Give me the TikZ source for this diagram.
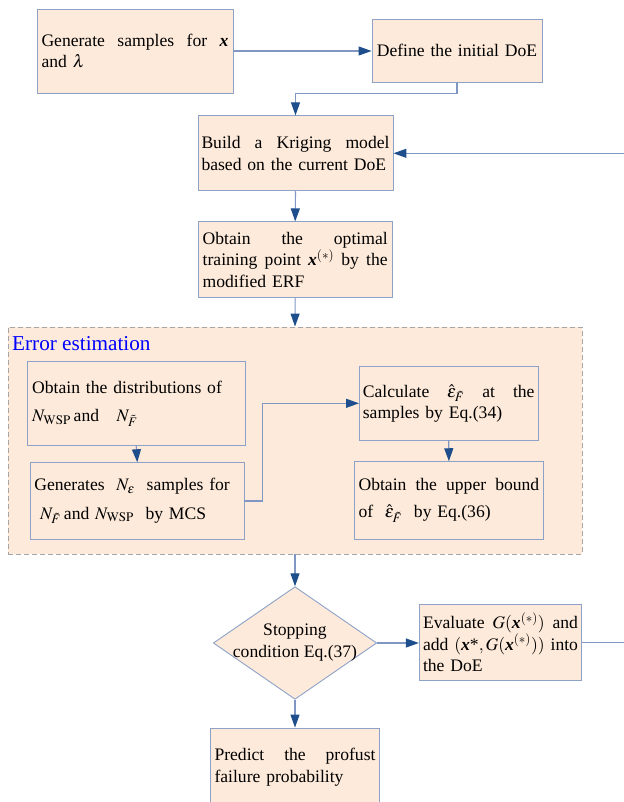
\documentclass[tikz,border=0pt]{standalone}
\usepackage{mathptmx}
\usepackage{fontspec}
\setmainfont{Liberation Serif}
\usetikzlibrary{arrows.meta,shapes.geometric}
\definecolor{peach}{HTML}{FDEADA}
\definecolor{bord}{HTML}{8EA2C8}
\definecolor{conn}{HTML}{7F97C2}
\definecolor{tipc}{HTML}{1F4E8C}
\definecolor{dashc}{HTML}{A6A6A6}
\newcommand\jl[2]{\makebox[#1pt][l]{#2}}
\newcommand\bx{\textbf{\textit{x}}}
\tikzset{
  every node/.style={font=\fontsize{17.6}{21.5}\selectfont},
  pbox/.style={draw=bord, line width=0.9pt, fill=peach, inner ysep=0pt, align=left},
  arr/.style={draw=conn, line width=1.1pt, -{Triangle[length=13pt,width=9pt,color=tipc]}},
}
\begin{document}
\begin{tikzpicture}[x=1pt,y=-1pt]
\useasboundingbox (0,0) rectangle (623,802);
% top boxes
\node[pbox, text width=187pt, inner xsep=4.5pt, minimum height=84pt] (gen) at (135,51)
  {\jl{187}{Generate\hfill samples\hfill for\hfill \bx}\\and $\lambda$};
\node[pbox, text width=166pt, inner xsep=2pt, minimum height=63pt, align=center] (def) at (457,50.5)
  {Define the initial DoE};
\node[pbox, text width=188pt, inner xsep=3.5pt, minimum height=75pt] (build) at (295.5,153.3)
  {\jl{188}{Build\hfill a\hfill Kriging\hfill model}\\based on the current DoE};
\node[pbox, text width=185pt, inner xsep=4.75pt, minimum height=76pt] (opt) at (295.2,259.9)
  {\jl{185}{Obtain\hfill the\hfill optimal}\\\jl{185}{training\hfill point\hfill \bx$^{(*)}$\hfill by\hfill the}\\modified ERF};
% error estimation group
\node[draw=dashc, dash pattern=on 5pt off 3pt, line width=0.9pt, fill=peach,
  minimum width=574pt, minimum height=227pt, inner sep=0pt] (err) at (295,440.5) {};
\node[anchor=base west, text=blue, font=\fontsize{21.2}{24}\selectfont, inner sep=0pt] (errt) at (12,350)
  {Error estimation};
\node[pbox, text width=208pt, inner xsep=5.25pt, minimum height=83.6pt] (A) at (136.2,403.5)
  {Obtain the distributions of\\[7pt]$N_{\mathrm{WSP}}$\,and\quad$N_{\tilde F}$};
\node[pbox, text width=206pt, inner xsep=3.7pt, minimum height=76.6pt] (B) at (137.3,501)
  {Generates\ \ $N_\varepsilon$\ \ samples for\\[7pt]\ $N_{\tilde F}$\,and\ $N_{\mathrm{WSP}}$\ \ by MCS};
\node[pbox, text width=171.7pt, inner xsep=3.4pt, minimum height=73.3pt] (C) at (448.7,403.3)
  {\jl{171.7}{Calculate\hfill $\hat\varepsilon_{\tilde F}$\hfill at\hfill the}\\samples by Eq.(34)};
\node[pbox, text width=180.7pt, inner xsep=3.75pt, minimum height=77.6pt] (D) at (448.9,500.5)
  {\jl{180.7}{Obtain\hfill the\hfill upper\hfill bound}\\[6pt]of\ \ $\hat\varepsilon_{\tilde F}$\ \ by Eq.(36)};
% decision
\node[diamond, draw=bord, line width=0.9pt, fill=peach, minimum width=163.4pt,
  minimum height=112.6pt, inner sep=0pt] (dia) at (295,643) {};
\node[align=center, inner sep=0pt] (diat) at (295,642.5) {Stopping\\condition Eq.(37)};
\node[pbox, text width=155pt, inner xsep=3.7pt, minimum height=75.7pt] (eval) at (500.5,642.2)
  {\jl{155}{Evaluate\hfill $G(\mbox{\bx}^{(*)})$\hfill and}\\\jl{155}{add\hfill $(\mbox{\bx*},G(\mbox{\bx}^{(*)}))$\hfill into}\\the DoE};
\node[pbox, text width=161pt, inner xsep=3.8pt, minimum height=78pt] (pred) at (295,767)
  {\jl{161}{Predict\hfill the\hfill profust}\\failure probability};
% connectors
\draw[arr] (gen.east) -- (gen.east -| def.west);
\draw[arr] (def.south) -- ++(0,10.7) -| (build.north);
\draw[arr] (build.south) -- (opt.north);
\draw[arr] (opt.south) -- (err.north);
\draw[arr] (A.south) -- (B.north);
\draw[arr] (B.east) -- ++(18,0) |- (C.west);
\draw[arr] (C.south) -- (D.north);
\draw[arr] (err.south) -- (dia.north);
\draw[arr] (dia.east) -- (dia.east -| eval.west);
\coordinate (rt) at (630,642.2);
\draw[arr] (eval.east) -- (rt) |- (build.east);
\draw[arr] (dia.south) -- (pred.north);
\end{tikzpicture}
\end{document}
